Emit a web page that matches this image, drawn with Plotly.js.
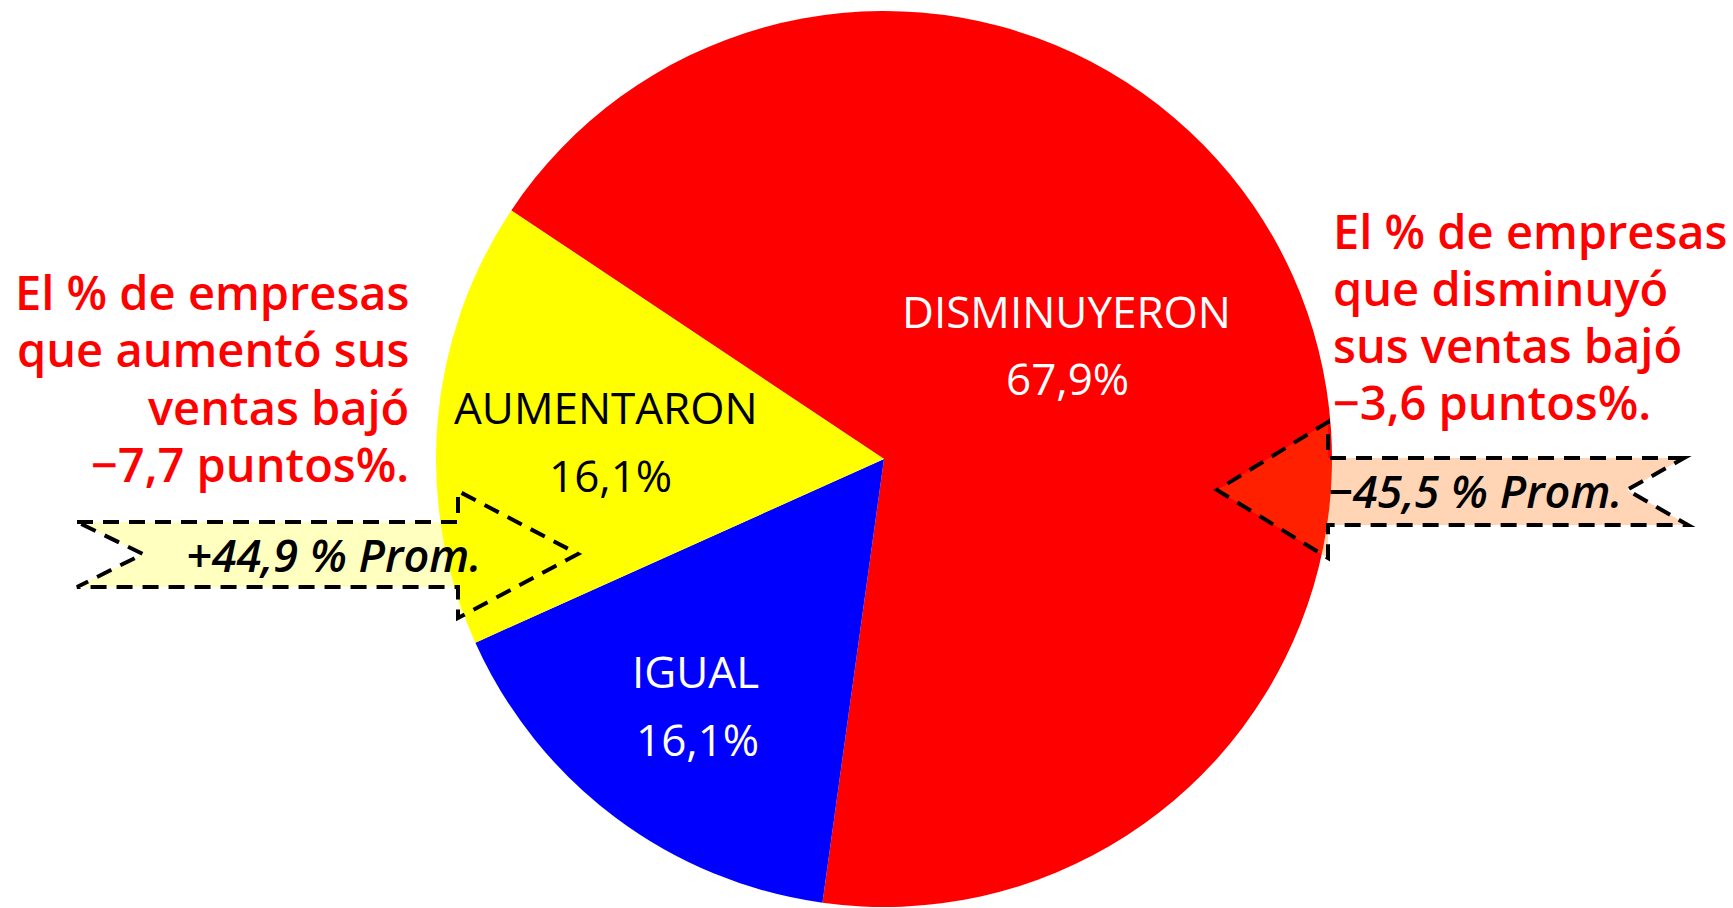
<!DOCTYPE html>
<html>
<head>
<meta charset="utf-8">
<script src="https://cdn.plot.ly/plotly-3.0.1.min.js"></script>
<style>html,body{margin:0;padding:0;background:#fff;}#chart{width:1733px;height:908px;}</style>
</head>
<body>
<div id="chart"></div>
<script>
// ---- data ----
const categories = ["DISMINUYERON", "IGUAL", "AUMENTARON"];
const shares = [67.9, 16.1, 16.1];
const shareLabels = ["67,9%", "16,1%", "16,1%"];
const sliceColors = ["#FF0000", "#0000FF", "#FFFF00"];
const labelColors = ["#FFFFFF", "#FFFFFF", "#000000"];
const avgUp = "+44,9 % Prom.";
const avgDown = "\u221245,5 % Prom.";
const noteLeft = ["El % de empresas", "que aumentó sus", "ventas bajó", "\u22127,7 puntos%."];
const noteRight = ["El % de empresas", "que disminuyó", "sus ventas bajó", "\u22123,6 puntos%."];

// ---- geometry helpers (pixels -> paper) ----
const W = 1733, H = 908;
const px = x => x / W;
const py = y => 1 - y / H;
function pathOf(pts) {
  return 'M ' + pts.map(p => px(p[0]).toFixed(5) + ',' + py(p[1]).toFixed(5)).join(' L ') + ' Z';
}

const cx = 884, cy = 459, R = 448;

const pie = {
  type: 'pie',
  labels: categories,
  values: shares,
  sort: false,
  direction: 'clockwise',
  rotation: -56.3,
  marker: {colors: sliceColors, line: {width: 0}},
  textinfo: 'none',
  hoverinfo: 'skip',
  domain: {x: [px(cx - R), px(cx + R)], y: [py(cy + R), py(cy - R)]},
  showlegend: false
};

const labelFont = {family: 'Open Sans', size: 44};
const labelPos = [[1066, 311, 1067, 378], [695, 671, 697, 739], [606, 407, 610, 475]];
const annotations = [];
categories.forEach((c, i) => {
  const p = labelPos[i];
  annotations.push({xref: 'paper', yref: 'paper', x: px(p[0]), y: py(p[1]), xanchor: 'center', yanchor: 'middle',
    text: c, showarrow: false, font: Object.assign({}, labelFont, {color: labelColors[i]})});
  annotations.push({xref: 'paper', yref: 'paper', x: px(p[2]), y: py(p[3]), xanchor: 'center', yanchor: 'middle',
    text: shareLabels[i], showarrow: false, font: Object.assign({}, labelFont, {color: labelColors[i]})});
});

const noteSize = 47;
const noteFont = {family: 'Open Sans', size: noteSize, weight: 600, color: '#FF0000'};
const leftBase = [310, 367.5, 425, 482];
const rightBase = [249, 306, 363, 420];
noteLeft.forEach((t, i) => annotations.push({xref: 'paper', yref: 'paper', x: px(411), y: py(leftBase[i] - 0.388 * noteSize),
  xanchor: 'right', yanchor: 'middle', text: t, showarrow: false, font: noteFont}));
noteRight.forEach((t, i) => annotations.push({xref: 'paper', yref: 'paper', x: px(1331), y: py(rightBase[i] - 0.388 * noteSize),
  xanchor: 'left', yanchor: 'middle', text: t, showarrow: false, font: noteFont}));

const avgFont = {family: 'Open Sans', size: 45, style: 'italic', weight: 600, color: '#000000'};
annotations.push({xref: 'paper', yref: 'paper', x: px(333), y: py(554), xanchor: 'center', yanchor: 'middle',
  text: avgUp, showarrow: false, font: avgFont});
annotations.push({xref: 'paper', yref: 'paper', x: px(1475), y: py(490), xanchor: 'center', yanchor: 'middle',
  text: avgDown, showarrow: false, font: avgFont});

const dashLine = {color: '#000000', width: 4, dash: '16px,10px'};
const shapes = [
  {type: 'path', xref: 'paper', yref: 'paper', layer: 'above',
   path: pathOf([[77,522],[458,522],[458,491],[578,554],[458,618],[458,587],[77,587],[143,554]]),
   fillcolor: 'rgba(255,255,0,0.25)', line: dashLine},
  {type: 'path', xref: 'paper', yref: 'paper', layer: 'above',
   path: pathOf([[1684,458],[1328,458],[1328,422],[1217,490],[1328,558],[1328,525],[1688,525],[1627,490]]),
   fillcolor: 'rgba(255,110,0,0.29)', line: dashLine}
];

const layout = {
  width: W, height: H,
  margin: {l: 0, r: 0, t: 0, b: 0, pad: 0},
  paper_bgcolor: '#FFFFFF', plot_bgcolor: '#FFFFFF',
  showlegend: false,
  annotations: annotations,
  shapes: shapes
};

Plotly.newPlot('chart', [pie], layout, {displayModeBar: false, staticPlot: true});
</script>
</body>
</html>
